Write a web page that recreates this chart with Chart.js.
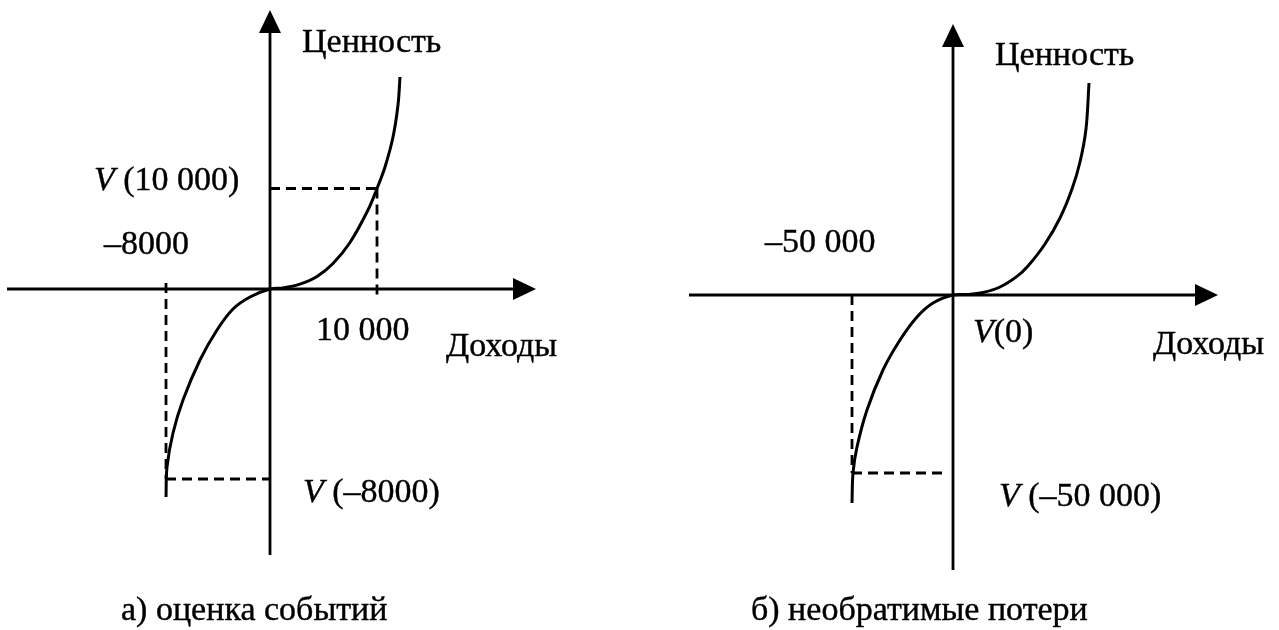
<!DOCTYPE html>
<html><head><meta charset="utf-8">
<script src="https://cdn.jsdelivr.net/npm/chart.js@4.4.0/dist/chart.umd.min.js"></script>
<style>
html,body{margin:0;padding:0;background:#fff;width:1279px;height:630px;overflow:hidden}
canvas{position:absolute;top:0;background:#fff}
#a{left:0}#b{left:640px}
</style></head><body>
<canvas id="a" width="640" height="630"></canvas>
<canvas id="b" width="639" height="630"></canvas>
<script>
// ---------- Panel a: оценка событий (diagram units) ----------
const curveA_x = [-10.4, -10.3, -9.7, -8.7, -7.0, -5.3, -3.7, -2.0, 0, 1.3, 3.0, 4.7, 6.3, 8.0, 9.8, 10.7, 11.5, 12.3, 12.8, 13.0];
const curveA_y = [-20.8, -17.8, -14.4, -11.1, -7.1, -4.1, -2.0, -0.8, 0, 0.1, 0.48, 1.25, 2.55, 4.65, 7.9, 10.05, 12.2, 15.2, 18.4, 21.2];
const gainA_x = 10.7;      // 10 000
const gainA_v = 10.05;     // V(10 000)
const lossA_x = -10.4;     // -8000
const lossA_v = -19.0;     // V(-8000)
const axisA_x = [-26.3, 26.6];
const axisA_y = [-26.6, 27.9];
const textA = ['Ценность', '–8000', '10 000', 'Доходы', 'а) оценка событий'];
const vTextA = [' (10 000)', ' (–8000)'];

// ---------- Panel b: необратимые потери ----------
const curveB_x = [-10.1, -10.0, -9.6, -8.6, -7.0, -5.3, -3.6, -2.0, 0, 1.5, 3.0, 4.7, 6.4, 7.5, 9.2, 10.7, 11.9, 12.7, 13.3, 13.6];
const curveB_y = [-20.8, -17.8, -15.2, -11.5, -7.5, -4.5, -2.2, -0.8, 0, 0.05, 0.25, 0.8, 1.86, 2.9, 5.1, 7.7, 10.6, 13.3, 16.6, 21.2];
const lossB_x = -10.1;     // -50 000
const lossB_v = -17.8;     // V(-50 000)
const lossB_end = -0.9;
const axisB_x = [-26.4, 26.5];
const axisB_y = [-27.5, 27.1];
const textB = ['Ценность', '–50 000', 'Доходы', 'б) необратимые потери'];
const vTextB = ['(0)', ' (–50 000)'];

const FONT = 'Liberation Serif, "Times New Roman", serif';
const FS = 34;

function pts(xs, ys){ return xs.map((x,i)=>({x, y: ys[i]})); }

function arrowPlugin(ax, ay, labels){
  return {
    id: 'decor',
    afterDatasetsDraw(chart){
      const ctx = chart.ctx, sx = chart.scales.x, sy = chart.scales.y;
      ctx.save();
      ctx.fillStyle = '#000'; ctx.strokeStyle = '#000';
      let tx = sx.getPixelForValue(ax[1]), ty = sy.getPixelForValue(0);
      ctx.beginPath(); ctx.moveTo(tx, ty); ctx.lineTo(tx-23, ty-11); ctx.lineTo(tx-23, ty+11); ctx.closePath(); ctx.fill();
      tx = sx.getPixelForValue(0); ty = sy.getPixelForValue(ay[1]);
      ctx.beginPath(); ctx.moveTo(tx, ty); ctx.lineTo(tx-11, ty+23); ctx.lineTo(tx+11, ty+23); ctx.closePath(); ctx.fill();
      ctx.textBaseline = 'alphabetic'; ctx.textAlign = 'left'; ctx.lineWidth = 0.4;
      labels.forEach(l => {
        let px = sx.getPixelForValue(l.at[0]), py = sy.getPixelForValue(l.at[1]);
        l.parts.forEach(p => {
          ctx.font = (p[1] ? 'italic ' : '') + FS + 'px ' + FONT;
          ctx.fillText(p[0], px, py);
          ctx.strokeText(p[0], px, py);
          px += ctx.measureText(p[0]).width;
        });
      });
      ctx.restore();
    }
  };
}

function makeChart(id, cfg){
  const solid = {showLine:true, pointRadius:0, borderColor:'#000', fill:false};
  const dashed = {showLine:true, pointRadius:0, borderColor:'#000', borderWidth:2.8, borderDash:[10,6], fill:false};
  return new Chart(document.getElementById(id), {
    type: 'scatter',
    data: { datasets: [
      Object.assign({data:[{x:cfg.ax[0],y:0},{x:cfg.ax[1]-1.5,y:0}], borderWidth:2.8}, solid),
      Object.assign({data:[{x:0,y:cfg.ay[0]},{x:0,y:cfg.ay[1]-1.5}], borderWidth:2.8}, solid),
      ...cfg.dashes.map(d => Object.assign({data:d}, dashed)),
      Object.assign({data:pts(cfg.cx, cfg.cy), borderWidth:3, tension:0.35}, solid)
    ]},
    options: {
      responsive:false, animation:false, events:[],
      layout:{padding:0},
      plugins:{legend:{display:false}, tooltip:{enabled:false}},
      scales:{
        x:{type:'linear', display:false, min:cfg.xr[0], max:cfg.xr[1]},
        y:{type:'linear', display:false, min:cfg.yr[0], max:cfg.yr[1]}
      }
    },
    plugins:[arrowPlugin(cfg.ax, cfg.ay, cfg.labels)]
  });
}

makeChart('a', {
  xr:[-27.0, 37.0], yr:[-34.1, 28.9],
  ax:axisA_x, ay:axisA_y, cx:curveA_x, cy:curveA_y,
  dashes:[
    [{x:0,y:gainA_v},{x:gainA_x,y:gainA_v}],
    [{x:gainA_x,y:gainA_v},{x:gainA_x,y:-0.7}],
    [{x:lossA_x,y:0.6},{x:lossA_x,y:lossA_v}],
    [{x:lossA_x,y:lossA_v},{x:0,y:lossA_v}]
  ],
  labels:[
    {parts:[[textA[0],false]], at:[3.2,23.7]},
    {parts:[['V',true],[vTextA[0],false]], at:[-17.6,9.9]},
    {parts:[[textA[1],false]], at:[-16.6,3.5]},
    {parts:[[textA[2],false]], at:[4.6,-5.1]},
    {parts:[[textA[3],false]], at:[17.6,-6.7]},
    {parts:[['V',true],[vTextA[1],false]], at:[3.3,-21.3]},
    {parts:[[textA[4],false]], at:[-14.9,-33.1]}
  ]
});

makeChart('b', {
  xr:[-31.3, 32.6], yr:[-33.5, 29.5],
  ax:axisB_x, ay:axisB_y, cx:curveB_x, cy:curveB_y,
  dashes:[
    [{x:lossB_x,y:0},{x:lossB_x,y:lossB_v}],
    [{x:lossB_x,y:lossB_v},{x:lossB_end,y:lossB_v}]
  ],
  labels:[
    {parts:[[textB[0],false]], at:[4.2,23.0]},
    {parts:[[textB[1],false]], at:[-18.8,4.3]},
    {parts:[['V',true],[vTextB[0],false]], at:[2.0,-4.7]},
    {parts:[[textB[2],false]], at:[20.0,-5.9]},
    {parts:[['V',true],[vTextB[1],false]], at:[4.6,-21.1]},
    {parts:[[textB[3],false]], at:[-20.2,-32.5]}
  ]
});
</script>
</body></html>
